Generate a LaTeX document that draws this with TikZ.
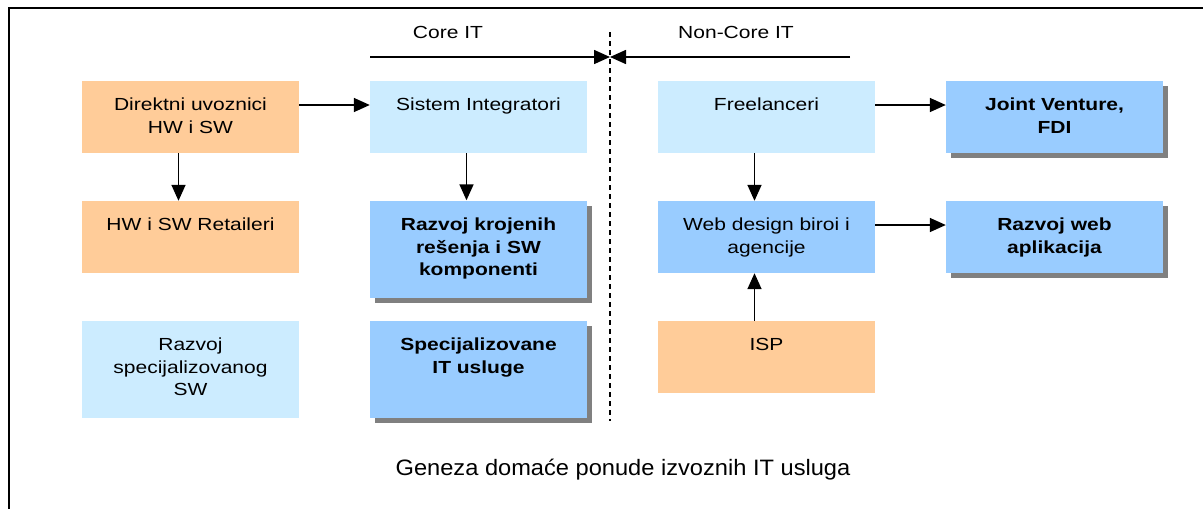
\documentclass[tikz,border=0pt]{standalone}
\usepackage{fontspec}
\setmainfont{Liberation Sans}[FakeStretch=1.2]
\newfontfamily\captionface{Liberation Sans}[FakeStretch=1.06]
\usetikzlibrary{arrows.meta,shadows,calc}
\definecolor{peach}{HTML}{FFCC99}
\definecolor{paleblue}{HTML}{CCECFF}
\definecolor{midblue}{HTML}{99CCFF}
\definecolor{shade}{HTML}{808080}
\tikzset{
  box/.style={rectangle, draw=none, minimum width=217pt, minimum height=72pt, inner sep=0pt},
  tall/.style={minimum height=97pt},
  shadowed/.style={drop shadow={shadow xshift=5pt, shadow yshift=-5pt, fill=shade, opacity=1}},
  boxtext/.style={anchor=north, inner sep=0pt, align=center, font=\fontsize{17.5}{22.7}\selectfont},
  plain/.style={inner sep=0pt, font=\fontsize{17.5}{22.7}\selectfont},
  arr/.style={line width=1.6pt, -{Triangle[length=16pt,width=14pt]}},
  divider/.style={line width=1.4pt, dash pattern=on 5pt off 4pt},
}
\newcommand{\boxlabel}[2]{\node[boxtext] at ([yshift=-14pt]#1.north) {\strut#2};}
\begin{document}
\begin{tikzpicture}[x=1pt, y=-1pt]
\useasboundingbox (0,0) rectangle (1203,509);
% page frame
\draw[line width=1.6pt] (9,520) -- (9,8) -- (1215,8);

% left column
\node[box, fill=peach] (dir) at (190.5,117) {};
\boxlabel{dir}{Direktni uvoznici\\HW i SW}
\node[box, fill=peach] (ret) at (190.5,237) {};
\boxlabel{ret}{HW i SW Retaileri}
\node[box, tall, fill=paleblue] (spec) at (190.5,369) {};
\boxlabel{spec}{Razvoj\\specijalizovanog\\SW}

% core IT column
\node[box, fill=paleblue] (sis) at (478.5,117) {};
\boxlabel{sis}{Sistem Integratori}
\node[box, tall, fill=midblue, shadowed] (kroj) at (478.5,249) {};
\boxlabel{kroj}{\bfseries Razvoj krojenih\\\bfseries rešenja i SW\\\bfseries komponenti}
\node[box, tall, fill=midblue, shadowed] (usl) at (478.5,369) {};
\boxlabel{usl}{\bfseries Specijalizovane\\\bfseries IT usluge}

% non-core IT column
\node[box, fill=paleblue] (free) at (766.5,117) {};
\boxlabel{free}{Freelanceri}
\node[box, fill=midblue] (web) at (766.5,237) {};
\boxlabel{web}{Web design biroi i\\agencije}
\node[box, fill=peach] (isp) at (766.5,357) {};
\boxlabel{isp}{ISP}

% outcomes
\node[box, fill=midblue, shadowed] (jv) at (1054.5,117) {};
\boxlabel{jv}{\bfseries Joint Venture,\\\bfseries FDI}
\node[box, fill=midblue, shadowed] (rweb) at (1054.5,237) {};
\boxlabel{rweb}{\bfseries Razvoj web\\\bfseries aplikacija}

% connectors
\draw[arr] ([yshift=12pt]dir.east) -- ([yshift=12pt]sis.west);
\draw[arr] ([xshift=-12pt]dir.south) -- ([xshift=-12pt]ret.north);
\draw[arr] ([xshift=-12pt]sis.south) -- ([xshift=-12pt]kroj.north);
\draw[arr] ([yshift=12pt]free.east) -- ([yshift=12pt]jv.west);
\draw[arr] ([xshift=-12pt]free.south) -- ([xshift=-12pt]web.north);
\draw[arr] ([yshift=12pt]web.east) -- ([yshift=12pt]rweb.west);
\draw[arr] ([xshift=-12pt]isp.north) -- ([xshift=-12pt]web.south);

% core / non-core header
\coordinate (coreL) at (370,57);
\coordinate (coreR) at (850,57);
\coordinate (split) at (610,57);
\coordinate (divTop) at (610,32);
\coordinate (divBot) at (610,421);
\draw[divider] (divTop) -- (divBot);
\draw[arr] (coreL) -- (split);
\draw[arr] (coreR) -- (split);
\node[plain, anchor=base] (core) at (448,38) {Core IT};
\node[plain, anchor=base] (noncore) at (736,38) {Non-Core IT};

% caption
\node[inner sep=0pt, anchor=base, font=\captionface\fontsize{22.3}{26}\selectfont] (cap) at (623,475) {Geneza domaće ponude izvoznih IT usluga};
\end{tikzpicture}
\end{document}
